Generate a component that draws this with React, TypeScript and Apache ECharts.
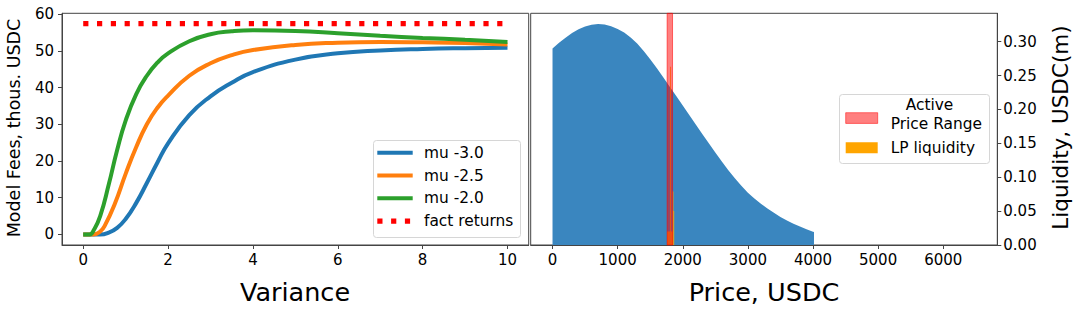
import React, { useEffect, useRef } from "react";
import * as echarts from "echarts";

// ---------- data ----------
const varianceTicks = [0, 2, 4, 6, 8, 10];
const feeTicks = [0, 10, 20, 30, 40, 50, 60];
const priceTicks = [0, 1000, 2000, 3000, 4000, 5000, 6000];
const liquidityTicks = [0, 0.05, 0.1, 0.15, 0.2, 0.25, 0.3];

const mu30X = [0, 0.4, 0.6, 0.8, 1.0, 1.25, 1.5, 1.75, 2.0, 2.5, 3.0, 3.5, 4.0, 5, 6, 7, 8, 9, 10];
const mu30Y = [0, 0, 0.5, 1.8, 4.2, 8.6, 14, 19.6, 24.8, 32.5, 37.6, 41.3, 44.2, 47.6, 49.3, 50.1, 50.5, 50.7, 50.8];

const mu25X = [0, 0.25, 0.4, 0.5, 0.75, 1.0, 1.25, 1.5, 1.75, 2.0, 2.5, 3.0, 3.5, 4.0, 5, 6, 7, 8, 9, 10];
const mu25Y = [0, 0, 0.8, 2.2, 8.5, 16.5, 23.8, 30, 34.5, 37.8, 43.2, 46.6, 48.8, 50.2, 51.6, 52.2, 52.4, 52.3, 52.1, 51.7];

const mu20X = [0, 0.15, 0.25, 0.4, 0.6, 0.8, 1.0, 1.25, 1.5, 1.75, 2.0, 2.5, 3.0, 3.5, 4.0, 5, 6, 7, 8, 9, 10];
const mu20Y = [0, 0, 1.2, 5, 13.5, 23, 31, 38.2, 43.2, 46.8, 49.3, 52.6, 54.5, 55.3, 55.6, 55.4, 54.8, 54.1, 53.5, 53.0, 52.4];

const factX = [0, 10];
const factY = [57.4, 57.4];

const priceX = [
  0, 100, 200, 300, 400, 500, 600, 700, 800, 900, 1000, 1100, 1200, 1300, 1400, 1500, 1600, 1700, 1800, 1900,
  2000, 2100, 2200, 2300, 2400, 2500, 2600, 2700, 2800, 2900, 3000, 3100, 3200, 3300, 3400, 3500, 3600, 3700,
  3800, 3900, 4000, 4015,
];
const liquidity = [
  0.29, 0.2985, 0.3058, 0.3128, 0.3183, 0.3225, 0.325, 0.326, 0.3253, 0.3228, 0.3188, 0.3135, 0.3062, 0.2972,
  0.2862, 0.274, 0.261, 0.2475, 0.2337, 0.2198, 0.2058, 0.1918, 0.1778, 0.1639, 0.1501, 0.1365, 0.1232, 0.1104,
  0.0985, 0.0875, 0.077, 0.0685, 0.061, 0.054, 0.0475, 0.0415, 0.0362, 0.0315, 0.0272, 0.0232, 0.0195, 0.019,
];

const lpLeft = [1760, 1772, 1784, 1796, 1808, 1820, 1832, 1844, 1856];
const lpRight = [1772, 1784, 1796, 1808, 1820, 1832, 1844, 1856, 1868];
const lpValue = [0.02, 0.02, 0.02, 0.02, 0.263, 0.02, 0.02, 0.079, 0.05];

const activeRange = [1760, 1843];

const FONT = "DejaVu Sans";

export default function App() {
  const ref = useRef<HTMLDivElement>(null);
  useEffect(() => {
    if (!ref.current) return;
    const chart = echarts.init(ref.current, undefined, { renderer: "svg" });
    const LIQ_MAX = 0.3419;
    const axisLineStyle = { color: "#444", width: 1 };
    const baseAxis = (extra: any) => ({
      splitLine: { show: false },
      axisLine: { show: true, onZero: false, lineStyle: axisLineStyle },
      ...extra,
    });
    const label = (extra: any) => ({ color: "#000", fontSize: 15, fontFamily: FONT, ...extra });

    const lineSeries = (name: string, xs: number[], ys: number[], color: string) => ({
      name,
      type: "line",
      xAxisIndex: 0,
      yAxisIndex: 0,
      data: xs.map((x, i) => [x, ys[i]]),
      showSymbol: false,
      smooth: 0.5,
      lineStyle: { color, width: 4 },
      itemStyle: { color },
    });

    const legendLeftRows = [
      { label: "mu -3.0", color: "#1f77b4", dotted: false },
      { label: "mu -2.5", color: "#ff7f0e", dotted: false },
      { label: "mu -2.0", color: "#2ca02c", dotted: false },
      { label: "fact returns", color: "#ff0000", dotted: true },
    ];

    const txt = (text: string, x: number, y: number, size: number, align: string, extra: any = {}) => ({
      type: "text",
      x,
      y,
      style: { text, fill: "#000", font: `${size}px "${FONT}"`, textAlign: align, textVerticalAlign: "middle" },
      ...extra,
    });

    const graphics: any[] = [
      {
        type: "rect",
        shape: { x: 373.5, y: 140.5, width: 147, height: 97, r: 3 },
        style: { fill: "rgba(255,255,255,0.8)", stroke: "#d6d6d6", lineWidth: 1 },
        z: 100,
      },
      ...legendLeftRows.flatMap((r, i) => {
        const y = 152.7 + 22.8 * i;
        return [
          {
            type: "line",
            shape: { x1: 377.3, y1: y, x2: 412.7, y2: y },
            style: r.dotted
              ? { stroke: r.color, lineWidth: 5.2, lineDash: [5.2, 8.6] }
              : { stroke: r.color, lineWidth: 4 },
            z: 101,
          },
          txt(r.label, 424, y, 15.4, "left", { z: 101 }),
        ];
      }),
      {
        type: "rect",
        shape: { x: 839.5, y: 94.5, width: 150, height: 69, r: 3 },
        style: { fill: "rgba(255,255,255,0.8)", stroke: "#d6d6d6", lineWidth: 1 },
        z: 100,
      },
      {
        type: "rect",
        shape: { x: 845.7, y: 112.7, width: 32, height: 10.7 },
        style: { fill: "rgba(255,0,0,0.5)", stroke: "rgba(255,0,0,0.5)", lineWidth: 1 },
        z: 101,
      },
      {
        type: "rect",
        shape: { x: 845.7, y: 142.3, width: 32, height: 11 },
        style: { fill: "#ffa500" },
        z: 101,
      },
      txt("Active", 929.5, 105, 15.4, "center", { z: 101 }),
      txt("Price Range", 890.7, 123.5, 15.4, "left", { z: 101 }),
      txt("LP liquidity", 890.7, 148, 15.4, "left", { z: 101 }),
      txt("Variance", 295, 292, 25.5, "center"),
      txt("Price, USDC", 764, 292, 25.5, "center"),
      txt("Model Fees, thous. USDC", 14, 128, 17.5, "center", { rotation: Math.PI / 2 }),
      txt("Liquidity, USDC(m)", 1060, 127.5, 21.5, "center", { rotation: Math.PI / 2 }),
    ];

    chart.setOption({
      animation: false,
      backgroundColor: "#fff",
      textStyle: { fontFamily: FONT },
      grid: [
        { left: 62, top: 13.3, width: 466.7, height: 231.7, show: true, borderColor: "#444", borderWidth: 1, backgroundColor: "transparent" },
        { left: 530.7, top: 13.3, width: 466.6, height: 231.7, show: true, borderColor: "#444", borderWidth: 1, backgroundColor: "transparent" },
      ],
      xAxis: [
        baseAxis({
          type: "value",
          gridIndex: 0,
          min: -0.5,
          max: 10.5,
          axisTick: { show: true, length: 4, lineStyle: axisLineStyle, customValues: varianceTicks },
          axisLabel: label({ customValues: varianceTicks, margin: 7, formatter: (v: number) => String(v) }),
        }),
        baseAxis({
          type: "value",
          gridIndex: 1,
          min: -335,
          max: 6830,
          axisTick: { show: true, length: 4, lineStyle: axisLineStyle, customValues: priceTicks },
          axisLabel: label({ customValues: priceTicks, margin: 7, formatter: (v: number) => String(v) }),
        }),
      ],
      yAxis: [
        baseAxis({
          type: "value",
          gridIndex: 0,
          min: -2.87,
          max: 60.2,
          axisTick: { show: true, length: 4, lineStyle: axisLineStyle, customValues: feeTicks },
          axisLabel: label({ customValues: feeTicks, margin: 8, formatter: (v: number) => String(v) }),
        }),
        baseAxis({
          type: "value",
          gridIndex: 1,
          position: "right",
          min: 0,
          max: LIQ_MAX,
          axisTick: { show: true, length: 4, lineStyle: axisLineStyle, customValues: liquidityTicks },
          axisLabel: label({ customValues: liquidityTicks, margin: 6, formatter: (v: number) => v.toFixed(2) }),
        }),
      ],
      series: [
        lineSeries("mu -3.0", mu30X, mu30Y, "#1f77b4"),
        lineSeries("mu -2.5", mu25X, mu25Y, "#ff7f0e"),
        lineSeries("mu -2.0", mu20X, mu20Y, "#2ca02c"),
        {
          name: "fact returns",
          type: "line",
          xAxisIndex: 0,
          yAxisIndex: 0,
          data: factX.map((x, i) => [x, factY[i]]),
          showSymbol: false,
          lineStyle: { color: "#ff0000", width: 5.2, type: [5.2, 8.6] },
        },
        {
          name: "Liquidity",
          type: "line",
          xAxisIndex: 1,
          yAxisIndex: 1,
          data: priceX.map((x, i) => [x, liquidity[i]]),
          showSymbol: false,
          lineStyle: { width: 0 },
          areaStyle: { color: "#3a86bf", opacity: 1 },
          z: 2,
        },
        {
          name: "LP liquidity",
          type: "custom",
          xAxisIndex: 1,
          yAxisIndex: 1,
          encode: { x: [0, 1], y: 2 },
          data: lpLeft.map((l, i) => [l, lpRight[i], lpValue[i]]),
          renderItem: (params: any, api: any) => {
            const p0 = api.coord([api.value(0), api.value(2)]);
            const p1 = api.coord([api.value(1), 0]);
            return {
              type: "rect",
              shape: { x: p0[0], y: p0[1], width: Math.max(p1[0] - p0[0], 0.8), height: p1[1] - p0[1] },
              style: { fill: "#ffa500" },
            };
          },
          z: 3,
        },
        {
          name: "Active Price Range",
          type: "custom",
          xAxisIndex: 1,
          yAxisIndex: 1,
          encode: { x: [0, 1], y: 2 },
          data: [[activeRange[0], activeRange[1], LIQ_MAX]],
          renderItem: (params: any, api: any) => {
            const p0 = api.coord([api.value(0), api.value(2)]);
            const p1 = api.coord([api.value(1), 0]);
            return {
              type: "rect",
              shape: { x: p0[0], y: p0[1], width: p1[0] - p0[0], height: p1[1] - p0[1] },
              style: { fill: "rgba(255,0,0,0.5)", stroke: "rgba(255,0,0,0.55)", lineWidth: 1 },
            };
          },
          z: 4,
        },
      ],
      graphic: graphics,
    });
    return () => chart.dispose();
  }, []);
  return <div ref={ref} style={{ position: "absolute", left: 0, top: 0, width: 1080, height: 311 }} />;
}
